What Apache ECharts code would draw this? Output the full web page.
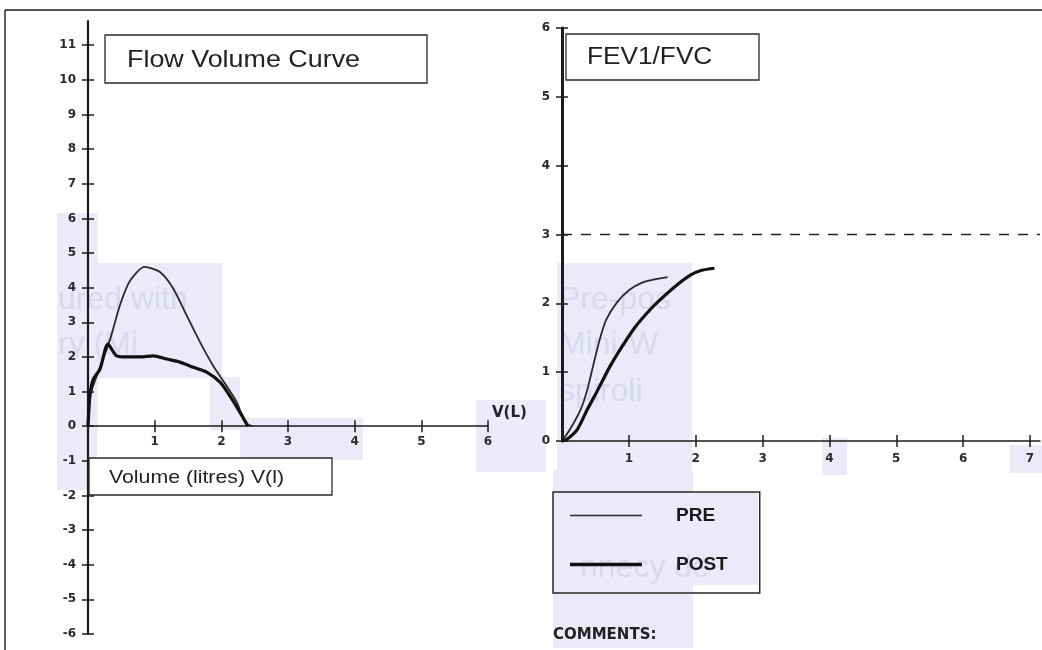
<!DOCTYPE html>
<html><head><meta charset="utf-8">
<script src="https://cdn.jsdelivr.net/npm/echarts@6/dist/echarts.min.js"></script>
<style>html,body{margin:0;padding:0;background:#fff}#c{width:1042px;height:650px}</style>
</head><body><div id="c"></div>
<script>
// ---- Flow–volume curve (left): x = volume (L), y = flow (L/s)
const flowPreVolume  = [0, 0.02, 0.15, 0.33, 0.48, 0.63, 0.85, 1.08, 1.28, 1.48, 1.68, 1.88, 2.08, 2.23, 2.36, 2.47];
const flowPreFlow    = [0, 0.8, 1.55, 2.5, 3.5, 4.2, 4.6, 4.45, 3.97, 3.2, 2.43, 1.74, 1.16, 0.7, 0.1, 0];
const flowPostVolume = [0, 0.03, 0.08, 0.18, 0.3, 0.43, 0.58, 0.78, 0.98, 1.18, 1.38, 1.58, 1.78, 1.98, 2.13, 2.28, 2.4];
const flowPostFlow   = [0, 0.9, 1.36, 1.65, 2.37, 2.03, 2.0, 2.0, 2.03, 1.94, 1.85, 1.7, 1.56, 1.27, 0.87, 0.4, 0];
// ---- Volume–time curve (right): x = time (s), y = volume (L)
const timePre  = [0, 0.12, 0.28, 0.38, 0.46, 0.56, 0.66, 0.82, 1.0, 1.2, 1.4, 1.58];
const volPre   = [0, 0.17, 0.46, 0.75, 1.07, 1.46, 1.76, 2.01, 2.19, 2.3, 2.35, 2.38];
const timePost = [0, 0.08, 0.23, 0.38, 0.54, 0.71, 0.89, 1.09, 1.31, 1.51, 1.71, 1.92, 2.09, 2.28];
const volPost  = [0, 0.03, 0.17, 0.46, 0.75, 1.07, 1.36, 1.65, 1.9, 2.09, 2.26, 2.41, 2.48, 2.51];
const predictedVolume = 3;
// ---- tick labels
const leftYTicks  = [-6,-5,-4,-3,-2,-1,0,1,2,3,4,5,6,7,8,9,10,11];
const leftXTicks  = [1,2,3,4,5,6];
const rightYTicks = [0,1,2,3,4,5,6];
const rightXTicks = [1,2,3,4,5,6,7];
const leftRange = {xMin:0, xMax:6, yMin:-6, yMax:11.7};
const rightRange = {xMin:0, xMax:7.15, yMin:0, yMax:6};
const seriesNames = ['PRE','POST'];

const zip = (a,b) => a.map((v,i)=>[v,b[i]]);
const labelFont = {fontFamily:'DejaVu Sans', fontWeight:'bold', fontSize:12, color:'#2a2a2a'};
const INK = '#1c1c1c';
const leftGrid = {left:88, top:21, width:400, height:613};
const rightGrid = {left:562, top:28, width:478, height:413};
// x axis of the left chart sits on flow = 0 (offset up from the grid bottom)
const leftZeroOffset = -(0 - leftRange.yMin) / (leftRange.yMax - leftRange.yMin) * leftGrid.height;

function mkAxis(kind, grid, range, ticks, opts) {
  const isX = kind === 'x';
  return {
    type:'value', gridIndex:grid,
    min: isX ? range.xMin : range.yMin, max: isX ? range.xMax : range.yMax,
    position: isX ? 'bottom' : 'left',
    offset: opts.offset || 0,
    splitLine:{show:false},
    axisLine:{show:!opts.dup, onZero:false, lineStyle:{color:INK, width:opts.lw||1.6}},
    axisTick:{show:true, customValues:ticks, inside:!!opts.dup, length:6, lineStyle:{color:INK, width:1.5}},
    axisLabel:{show:!opts.dup, customValues:ticks, margin:opts.margin||10, ...labelFont},
  };
}

const xAxes = [
  mkAxis('x',0,leftRange,leftXTicks,{lw:1.5, margin:10, offset:leftZeroOffset}),
  mkAxis('x',0,leftRange,leftXTicks,{dup:true, offset:leftZeroOffset}),
  mkAxis('x',1,rightRange,rightXTicks,{lw:1.5, margin:12}),
  mkAxis('x',1,rightRange,rightXTicks,{dup:true}),
];
const yAxes = [
  mkAxis('y',0,leftRange,leftYTicks,{lw:2.2, margin:12}),
  mkAxis('y',0,leftRange,leftYTicks,{dup:true}),
  mkAxis('y',1,rightRange,rightYTicks,{lw:3, margin:12}),
  mkAxis('y',1,rightRange,rightYTicks,{dup:true}),
];

const lineBase = {type:'line', showSymbol:false, symbol:'none', smooth:0.25, silent:true, animation:false};

const patches = [
  [57,213,41,220],[97,263,125,115],[210,377,30,53],[240,418,123,42],[57,433,40,57],
  [476,400,70,72],[557,263,135,207],[553,470,140,178],[692,492,66,93],[822,438,25,37],[1010,445,32,28]
];
const ghostTexts = [
  ['ured with',58,300,32],['ry (Mi',58,345,32],['Pre-pos',559,300,32],['Mini-W',559,345,32],
  ['spiroli',559,392,32],['nnecy de',580,568,32]
];

const graphics = [];
patches.forEach(p=>graphics.push({type:'rect', z:-5, shape:{x:p[0],y:p[1],width:p[2],height:p[3]}, style:{fill:'#eaeaf8'}}));
ghostTexts.forEach(t=>graphics.push({type:'text', z:-4, x:t[1], y:t[2], style:{text:t[0], fontFamily:'Liberation Sans', fontSize:t[3], fill:'#d8d8ee', verticalAlign:'middle'}}));
// page frame
graphics.push({type:'line', shape:{x1:5,y1:10,x2:1042,y2:10}, style:{stroke:INK, lineWidth:1.6}});
graphics.push({type:'line', shape:{x1:5,y1:10,x2:5,y2:650}, style:{stroke:INK, lineWidth:1.4}});
// title boxes
function box(x,y,w,h,text,tx,fs,sx){
  graphics.push({type:'rect', z:50, shape:{x,y,width:w,height:h}, style:{fill:'#fff', stroke:'#2a2a2a', lineWidth:1.3}});
  graphics.push({type:'text', z:51, x:tx, y:y+h/2+1, scaleX:sx, style:{text, fontFamily:'Liberation Sans', fontSize:fs, fill:'#222', verticalAlign:'middle'}});
}
box(105,35,322,48,'Flow Volume Curve',127,24,1.12);
box(566,34,193,46,'FEV1/FVC',587,23,1.14);
box(89,458,243,37,'Volume (litres) V(l)',109,19,1.12);
graphics.push({type:'text', z:51, x:492, y:413, style:{text:'V(L)', fontFamily:'DejaVu Sans', fontWeight:'bold', fontSize:15, fill:'#222', verticalAlign:'middle'}});
graphics.push({type:'text', z:51, x:553, y:635, style:{text:'COMMENTS:', fontFamily:'DejaVu Sans', fontWeight:'bold', fontSize:15, fill:'#222', verticalAlign:'middle'}});

const option = {
  backgroundColor:'#fff',
  animation:false,
  grid:[ {...leftGrid, containLabel:false}, {...rightGrid, containLabel:false} ],
  xAxis:xAxes, yAxis:yAxes,
  legend:{
    data:[
      {name:seriesNames[0], icon:'path://M0,0H72V1.6H0Z'},
      {name:seriesNames[1], icon:'path://M0,0H72V3.6H0Z'}
    ],
    orient:'vertical', left:553, top:492, itemWidth:72, itemHeight:20, itemGap:30,
    padding:[14,32,19,17], borderColor:'#2a2a2a', borderWidth:1.5,
    selectedMode:false,
    textStyle:{fontFamily:'Liberation Sans', fontWeight:'bold', fontSize:19, color:'#1a1a1a', padding:[0,0,0,29]}
  },
  graphic:graphics,
  series:[
    {...lineBase, name:'PRE', xAxisIndex:0, yAxisIndex:0, data:zip(flowPreVolume, flowPreFlow), lineStyle:{color:'#2a2a2a', width:1.8}, itemStyle:{color:'#2a2a2a'}},
    {...lineBase, name:'POST', xAxisIndex:0, yAxisIndex:0, data:zip(flowPostVolume, flowPostFlow), lineStyle:{color:'#111', width:3.2}, itemStyle:{color:'#111'}},
    {...lineBase, name:'PRE', xAxisIndex:2, yAxisIndex:2, data:zip(timePre, volPre), lineStyle:{color:'#2a2a2a', width:1.8}, itemStyle:{color:'#2a2a2a'}},
    {...lineBase, name:'POST', xAxisIndex:2, yAxisIndex:2, data:zip(timePost, volPost), lineStyle:{color:'#111', width:3.2}, itemStyle:{color:'#111'}},
    {...lineBase, name:'Predicted', smooth:false, xAxisIndex:2, yAxisIndex:2,
      data:[[rightRange.xMin, predictedVolume],[rightRange.xMax, predictedVolume]],
      lineStyle:{color:'#222', width:1.5, type:[10,9]}}
  ]
};
const chart = echarts.init(document.getElementById('c'), null, {renderer:'canvas'});
chart.setOption(option);
</script>
</body></html>
